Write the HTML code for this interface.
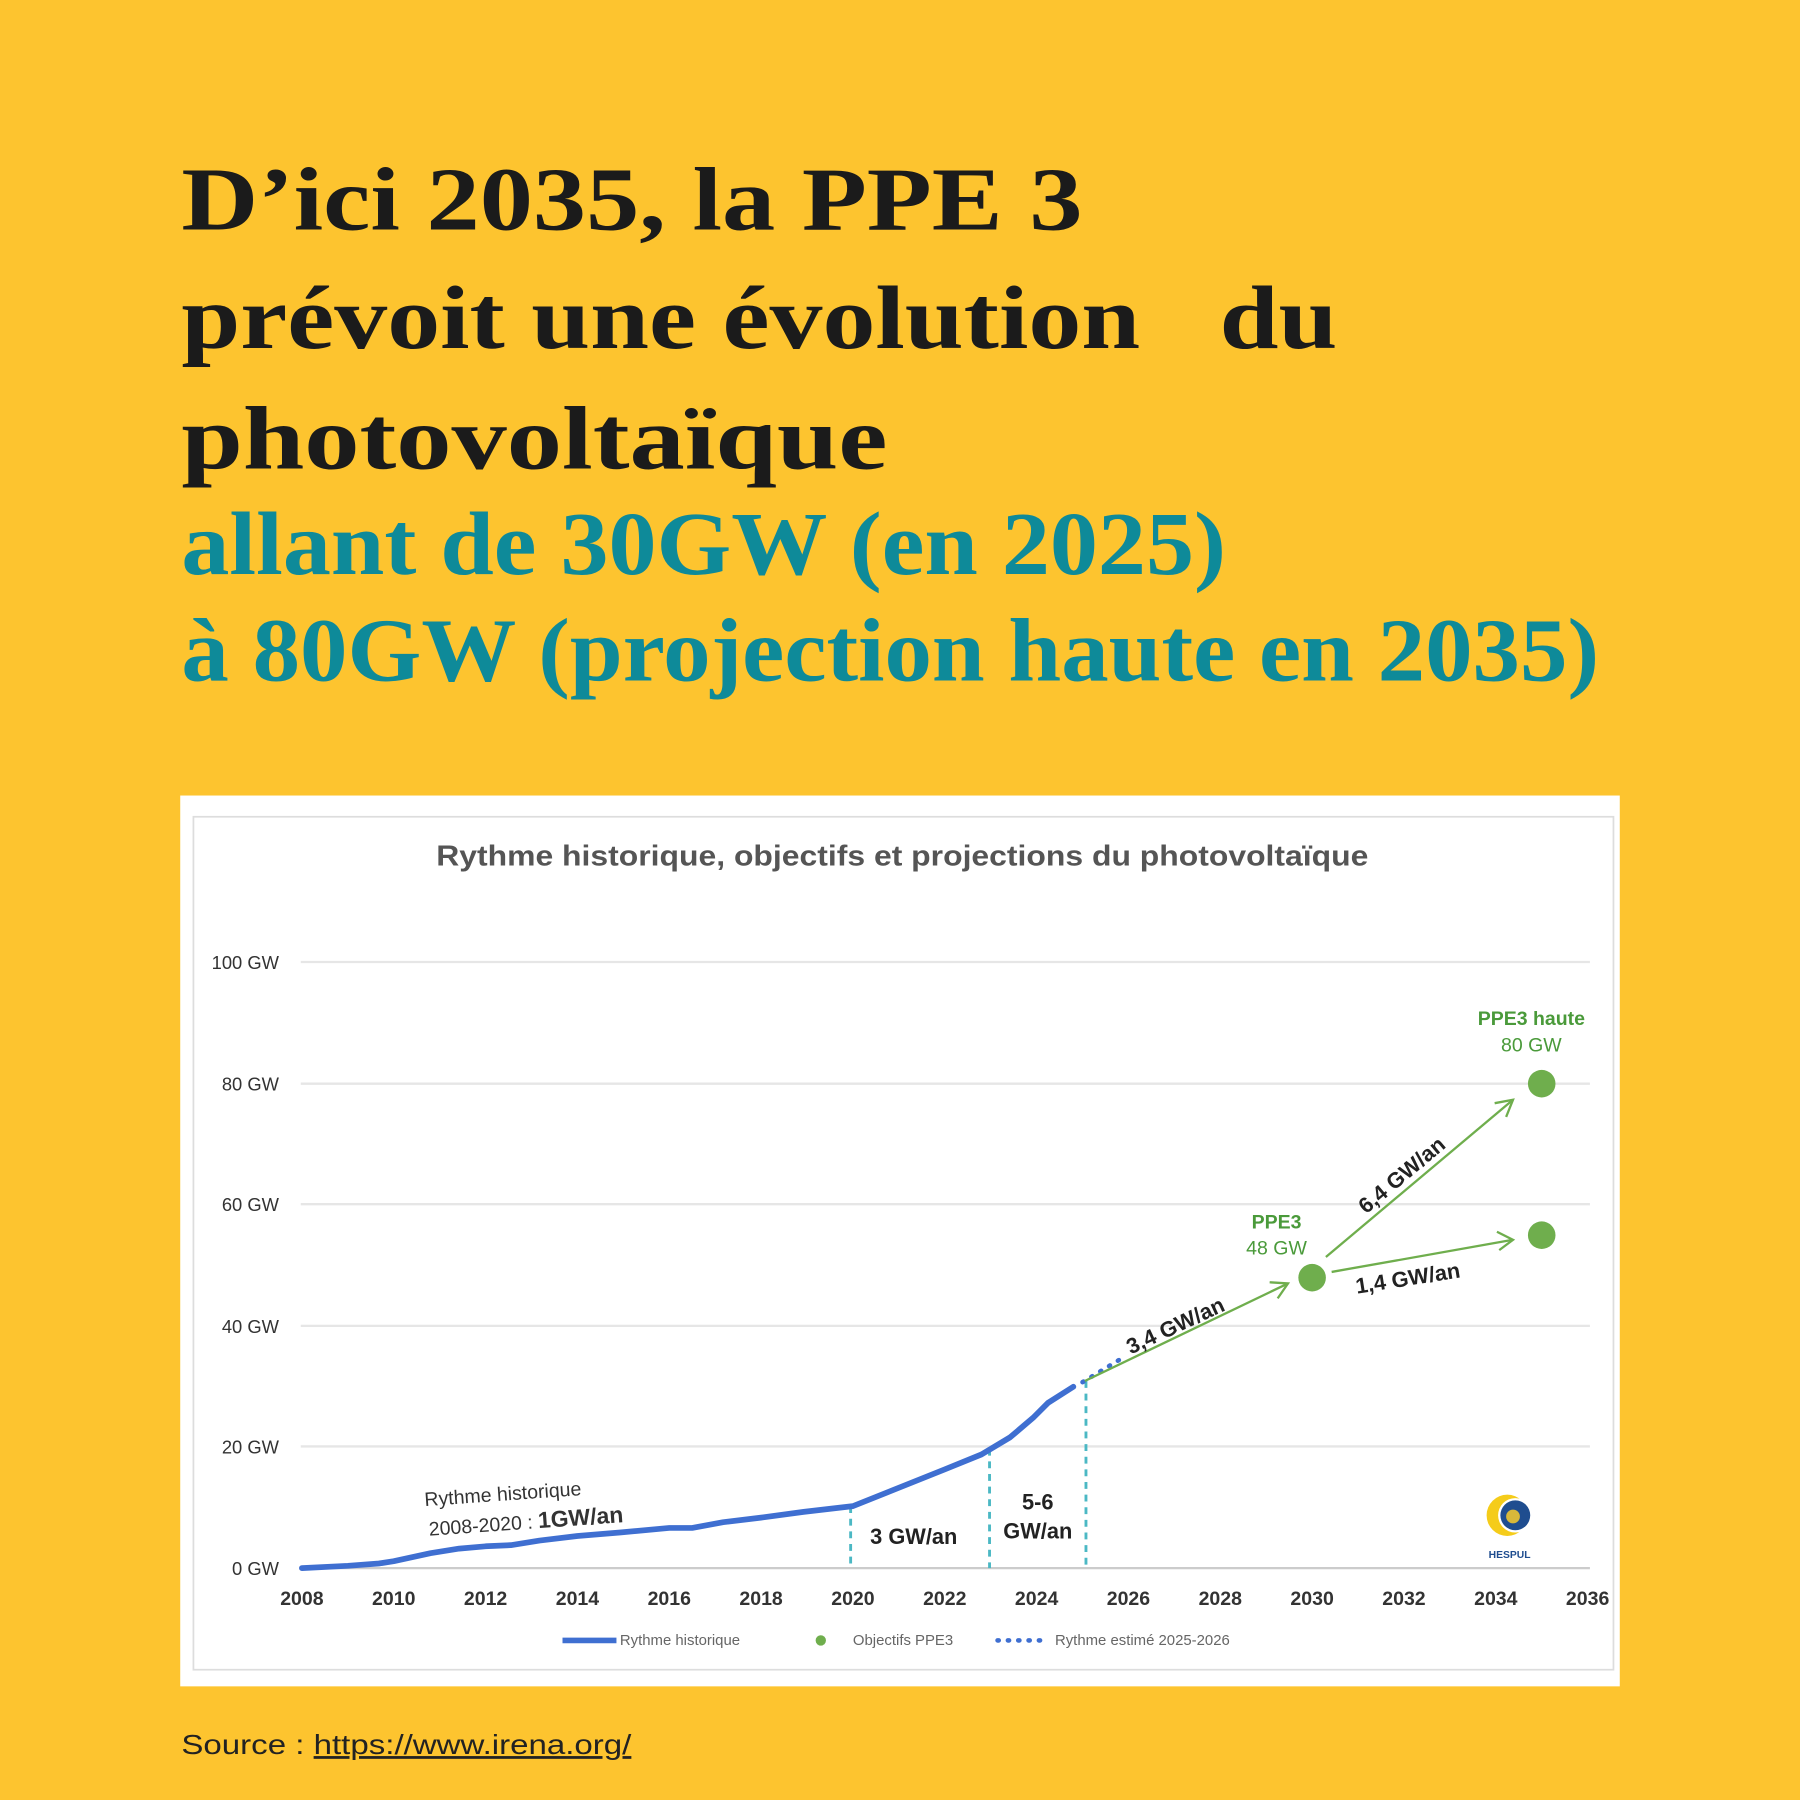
<!DOCTYPE html>
<html><head><meta charset="utf-8"><style>
html,body{margin:0;padding:0;background:#FDC42F;}
svg{display:block;}
</style></head><body>
<svg width="1800" height="1800" viewBox="0 0 1568 1568" xmlns="http://www.w3.org/2000/svg">
<rect width="1568" height="1568" fill="#FDC42F"/>
<g font-family="'Liberation Serif', serif" font-weight="bold" font-size="78">
<text x="158" y="200" fill="#1b1b1b" textLength="785" lengthAdjust="spacingAndGlyphs">D’ici 2035, la PPE 3</text>
<text x="158" y="303" fill="#1b1b1b" textLength="1007" lengthAdjust="spacingAndGlyphs" xml:space="preserve">prévoit une évolution   du</text>
<text x="158" y="408" fill="#1b1b1b" textLength="615" lengthAdjust="spacingAndGlyphs">photovoltaïque</text>
<text x="158" y="500" fill="#0E8A99" textLength="910" lengthAdjust="spacingAndGlyphs">allant de 30GW (en 2025)</text>
<text x="158" y="593" fill="#0E8A99" textLength="1235" lengthAdjust="spacingAndGlyphs">à 80GW (projection haute en 2035)</text>
</g>
<rect x="157" y="693" width="1254" height="776" fill="#fff"/>
<rect x="168.5" y="711.5" width="1237" height="743" fill="none" stroke="#ddd" stroke-width="1.5"/>
<text x="380" y="754" font-family="'Liberation Sans',sans-serif" font-weight="bold" font-size="25" fill="#555" textLength="812" lengthAdjust="spacingAndGlyphs">Rythme historique, objectifs et projections du photovoltaïque</text>
<g stroke="#e6e6e6" stroke-width="2">
<line x1="262" y1="838" x2="1385" y2="838"/><line x1="262" y1="944" x2="1385" y2="944"/>
<line x1="262" y1="1049" x2="1385" y2="1049"/><line x1="262" y1="1155" x2="1385" y2="1155"/>
<line x1="262" y1="1260" x2="1385" y2="1260"/>
</g>
<line x1="262" y1="1366" x2="1385" y2="1366" stroke="#ccc" stroke-width="2"/>
<g font-family="'Liberation Sans',sans-serif" font-size="16" fill="#333" text-anchor="end">
<text x="243" y="844">100 GW</text><text x="243" y="950">80 GW</text><text x="243" y="1055">60 GW</text>
<text x="243" y="1161">40 GW</text><text x="243" y="1266">20 GW</text><text x="243" y="1372">0 GW</text>
</g>
<g font-family="'Liberation Sans',sans-serif" font-size="17" font-weight="bold" fill="#333" text-anchor="middle">
<text x="263" y="1398">2008</text><text x="343" y="1398">2010</text><text x="423" y="1398">2012</text><text x="503" y="1398">2014</text>
<text x="583" y="1398">2016</text><text x="663" y="1398">2018</text><text x="743" y="1398">2020</text><text x="823" y="1398">2022</text>
<text x="903" y="1398">2024</text><text x="983" y="1398">2026</text><text x="1063" y="1398">2028</text><text x="1143" y="1398">2030</text>
<text x="1223" y="1398">2032</text><text x="1303" y="1398">2034</text><text x="1383" y="1398">2036</text>
</g>
<g stroke="#4bb8c4" stroke-width="2.5" stroke-dasharray="6,5">
<line x1="741" y1="1312" x2="741" y2="1366"/><line x1="862" y1="1262" x2="862" y2="1366"/><line x1="946" y1="1203" x2="946" y2="1366"/>
</g>
<polyline fill="none" stroke="#3f6fd1" stroke-width="5" stroke-linejoin="round" stroke-linecap="round"
points="263,1366 303,1364 330,1362 343,1360 375,1353 400,1349 423,1347 445,1346 470,1342 503,1338 540,1335 583,1331 603,1331 630,1326 663,1322 700,1317 743,1312 783,1296 823,1280 855,1267 880,1252 900,1235 913,1222 935,1208"/>
<line x1="943" y1="1204" x2="976" y2="1184" stroke="#3f6fd1" stroke-width="4" stroke-dasharray="1,8" stroke-linecap="round"/>
<g stroke="#6fae4d" stroke-width="2" fill="none">
<line x1="945" y1="1203" x2="1122" y2="1118"/><polyline points="1106,1117 1122,1118 1113,1131"/>
<line x1="1155" y1="1095" x2="1318" y2="958"/><polyline points="1302,961 1318,958 1312,973"/>
<line x1="1160" y1="1108" x2="1318" y2="1080"/><polyline points="1304,1073 1318,1080 1306,1089"/>
</g>
<g fill="#6fae4d"><circle cx="1143" cy="1113" r="12"/><circle cx="1343" cy="944" r="12"/><circle cx="1343" cy="1076" r="12"/></g>
<g font-family="'Liberation Sans',sans-serif" fill="#4a9a3a" text-anchor="middle" font-size="17">
<text x="1112" y="1070" font-weight="bold">PPE3</text><text x="1112" y="1093">48 GW</text>
<text x="1334" y="893" font-weight="bold">PPE3 haute</text><text x="1334" y="916">80 GW</text>
</g>
<g font-family="'Liberation Sans',sans-serif" font-weight="bold" fill="#222" font-size="19">
<text transform="translate(985,1180) rotate(-25)">3,4 GW/an</text>
<text transform="translate(1190,1058) rotate(-40)">6,4 GW/an</text>
<text transform="translate(1182,1127) rotate(-9)">1,4 GW/an</text>
<text x="758" y="1345">3 GW/an</text>
<text x="904" y="1315" text-anchor="middle">5-6</text><text x="904" y="1340" text-anchor="middle">GW/an</text>
</g>
<g font-family="'Liberation Sans',sans-serif" fill="#333" transform="rotate(-4 370 1310)">
<text x="370" y="1312" font-size="17">Rythme historique</text>
<text x="372" y="1338" font-size="17">2008-2020 : <tspan font-weight="bold" font-size="20">1GW/an</tspan></text>
</g>
<circle cx="1313" cy="1320" r="18" fill="#f5cc1a"/><circle cx="1320" cy="1320" r="15" fill="#fff"/>
<circle cx="1320" cy="1320" r="13" fill="#1f4d8f"/><circle cx="1318" cy="1321" r="6" fill="#d8b83a"/>
<text x="1315" y="1357" font-family="'Liberation Sans',sans-serif" font-size="9" font-weight="bold" fill="#1f4d8f" text-anchor="middle">HESPUL</text>
<g font-family="'Liberation Sans',sans-serif" font-size="13" fill="#666">
<line x1="490" y1="1429" x2="537" y2="1429" stroke="#3f6fd1" stroke-width="5"/><text x="540" y="1433">Rythme historique</text>
<circle cx="715" cy="1429" r="4.5" fill="#6fae4d"/><text x="743" y="1433">Objectifs PPE3</text>
<line x1="869" y1="1429" x2="910" y2="1429" stroke="#3f6fd1" stroke-width="4" stroke-dasharray="1,8" stroke-linecap="round"/><text x="919" y="1433">Rythme estimé 2025-2026</text>
</g>
<text x="158" y="1528" font-family="'Liberation Sans',sans-serif" font-size="24" fill="#222" textLength="392" lengthAdjust="spacingAndGlyphs">Source : <tspan text-decoration="underline">https://www.irena.org/</tspan></text>
</svg>
</body></html>
